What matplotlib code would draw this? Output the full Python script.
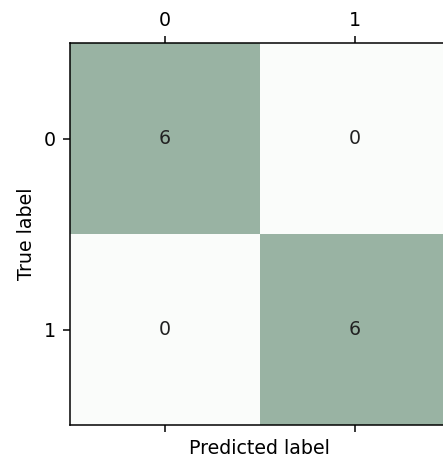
import numpy as np
import matplotlib.pyplot as plt
from matplotlib.colors import LinearSegmentedColormap

classes = ['0', '1']
conf = np.array([[6, 0],
                 [0, 6]])

cmap = LinearSegmentedColormap.from_list('gr', ['#fafcfa', '#99b3a3'])

dpi = 137
fig = plt.figure(figsize=(443 / dpi, 459 / dpi), dpi=dpi)
ax = fig.add_axes([69.5 / 443, 34 / 459, 380 / 443, 382 / 459])
ax.matshow(conf, cmap=cmap, aspect='auto')

for i in range(conf.shape[0]):
    for j in range(conf.shape[1]):
        ax.text(j, i, str(conf[i, j]), ha='center', va='center', color='#222222')

ax.set_xticks(range(len(classes)))
ax.set_yticks(range(len(classes)))
ax.set_xticklabels(classes)
ax.set_yticklabels(classes)
ax.xaxis.set_ticks_position('both')
ax.tick_params(axis='x', labelbottom=False, labeltop=True)
ax.xaxis.set_label_position('bottom')
ax.set_xlabel('Predicted label')
ax.set_ylabel('True label')

fig.savefig('out.png', dpi=dpi)
